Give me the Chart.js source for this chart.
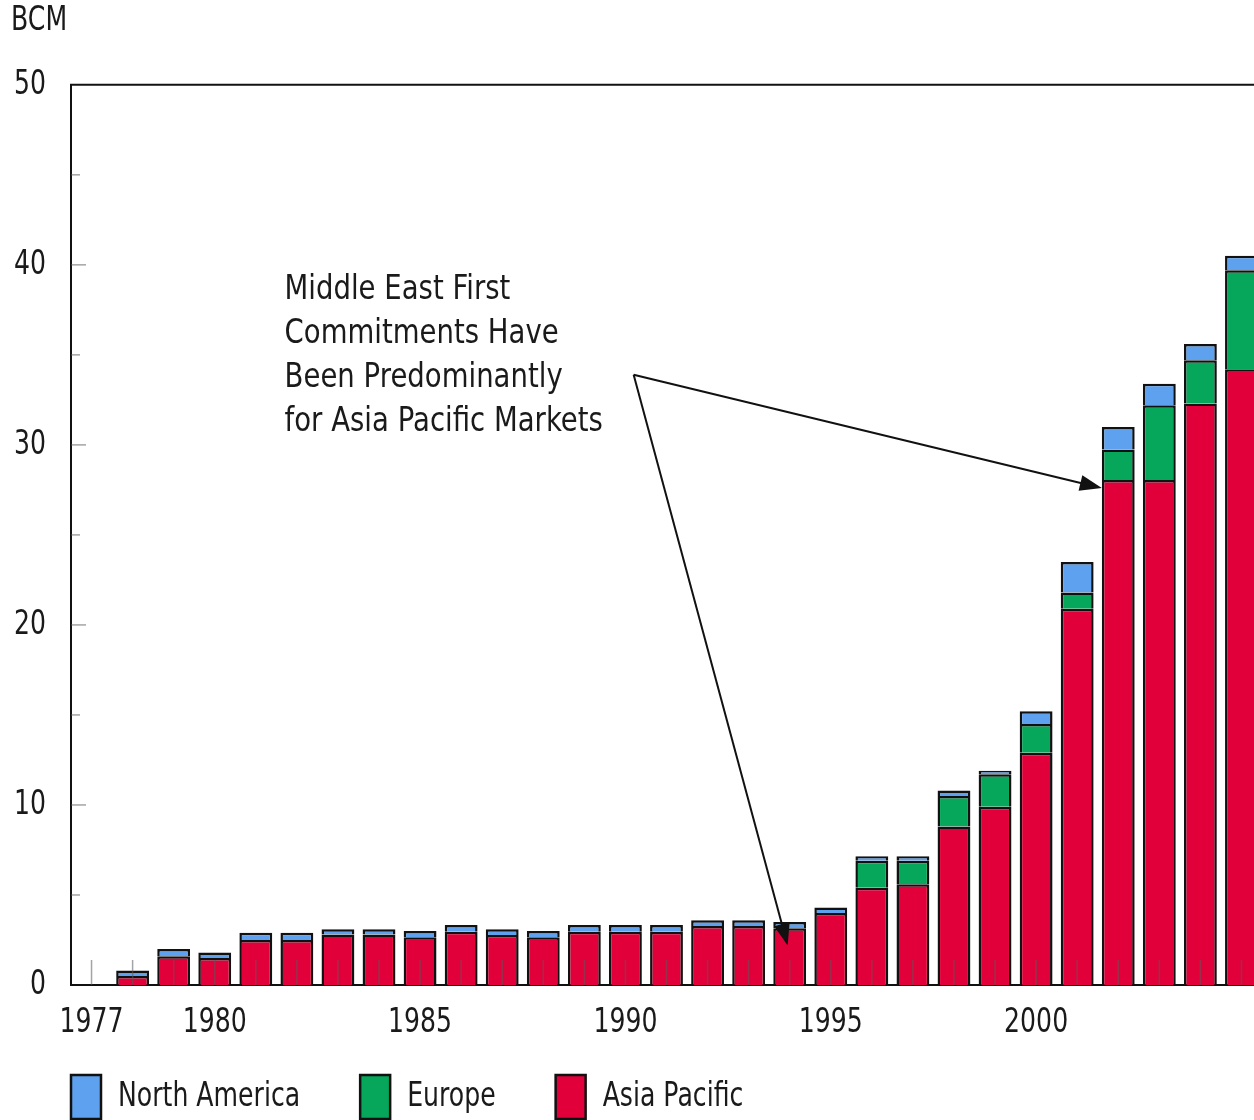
<!DOCTYPE html>
<html>
<head>
<meta charset="utf-8">
<script src="https://cdn.jsdelivr.net/npm/chart.js@4.4.1/dist/chart.umd.min.js"></script>
<style>
  html, body { margin: 0; padding: 0; background: #fff; overflow: hidden; }
  #wrap { width: 1262px; height: 1158px; }
</style>
</head>
<body>
<div id="wrap"><canvas id="chart" width="1262" height="1158"></canvas></div>
<script>
const years = ["1977", "1978", "1979", "1980", "1981", "1982", "1983", "1984", "1985", "1986",
  "1987", "1988", "1989", "1990", "1991", "1992", "1993", "1994", "1995", "1996",
  "1997", "1998", "1999", "2000", "2001", "2002", "2003", "2004", "2005"];
const labelYears = ["1977", "1980", "1985", "1990", "1995", "2000"];

// BCM
const asiaPacific = [0, 0.5, 1.6, 1.5, 2.5, 2.5, 2.8, 2.8, 2.65, 2.96,
  2.78, 2.65, 2.96, 2.96, 2.96, 3.28, 3.28, 3.15, 4.0, 5.4,
  5.6, 8.8, 9.9, 12.9, 20.9, 28.05, 28.05, 32.3, 34.2];
const europe = [0, 0, 0, 0, 0, 0, 0, 0, 0, 0,
  0, 0, 0, 0, 0, 0, 0, 0, 0, 1.5,
  1.3, 1.7, 1.8, 1.6, 0.9, 1.7, 4.15, 2.4, 5.5];
const northAmerica = [0, 0.3, 0.4, 0.3, 0.4, 0.4, 0.3, 0.3, 0.35, 0.37,
  0.32, 0.35, 0.37, 0.37, 0.37, 0.32, 0.32, 0.35, 0.3, 0.25,
  0.25, 0.3, 0.2, 0.7, 1.7, 1.25, 1.2, 0.9, 0.8];

const noteLines = ["Middle East First", "Commitments Have", "Been Predominantly", "for Asia Pacific Markets"];

const FONT = "'DejaVu Sans', sans-serif";
const TEXT = "#1a1a1a";
let squeeze = 0.74; // original type is a narrow face, squeeze text sideways

const canvas = document.getElementById("chart");
const c2d = canvas.getContext("2d");
const baseMeasure = c2d.measureText.bind(c2d);
const baseFill = c2d.fillText.bind(c2d);
c2d.measureText = function (t) {
  const m = baseMeasure(t);
  return {
    width: m.width * squeeze,
    actualBoundingBoxAscent: m.actualBoundingBoxAscent,
    actualBoundingBoxDescent: m.actualBoundingBoxDescent,
    actualBoundingBoxLeft: m.actualBoundingBoxLeft * squeeze,
    actualBoundingBoxRight: m.actualBoundingBoxRight * squeeze,
    fontBoundingBoxAscent: m.fontBoundingBoxAscent,
    fontBoundingBoxDescent: m.fontBoundingBoxDescent
  };
};
c2d.fillText = function (t, x, y, maxW) {
  const w = baseMeasure(String(t)).width * squeeze;
  baseFill(t, x, y, maxW !== undefined ? Math.min(maxW, w) : w);
};

// frame top line + little inside ticks
const framePlugin = {
  id: "frame",
  afterLayout(chart) {
    // legend sits closer under the axis than its padding allows
    const lg = chart.legend;
    const h = lg.bottom - lg.top;
    lg.top = chart.chartArea.bottom + 30;
    lg.bottom = lg.top + h;
  },
  afterDatasetsDraw(chart) {
    const { ctx, chartArea: a, scales } = chart;
    ctx.save();
    ctx.strokeStyle = "rgba(90,90,90,0.55)";
    ctx.lineWidth = 1.5;
    years.forEach((y, i) => {
      const px = scales.x.getPixelForValue(i);
      ctx.beginPath();
      ctx.moveTo(px, a.bottom);
      ctx.lineTo(px, a.bottom - 25);
      ctx.stroke();
    });
    for (let v = 5; v < 50; v += 5) {
      const py = scales.y.getPixelForValue(v);
      ctx.beginPath();
      ctx.moveTo(a.left, py);
      ctx.lineTo(a.left + (v % 10 === 0 ? 15 : 9), py);
      ctx.stroke();
    }
    ctx.strokeStyle = "#111";
    ctx.lineWidth = 2;
    ctx.beginPath();
    ctx.moveTo(a.left - 1, a.top);
    ctx.lineTo(a.right + 10, a.top);
    ctx.stroke();
    ctx.restore();
  }
};

function arrow(ctx, x0, y0, x1, y1) {
  const ang = Math.atan2(y1 - y0, x1 - x0);
  const len = 22, wid = 8;
  ctx.beginPath();
  ctx.moveTo(x0, y0);
  ctx.lineTo(x1 - Math.cos(ang) * len * 0.8, y1 - Math.sin(ang) * len * 0.8);
  ctx.stroke();
  ctx.beginPath();
  ctx.moveTo(x1, y1);
  ctx.lineTo(x1 - Math.cos(ang) * len - Math.sin(ang) * wid, y1 - Math.sin(ang) * len + Math.cos(ang) * wid);
  ctx.lineTo(x1 - Math.cos(ang) * len + Math.sin(ang) * wid, y1 - Math.sin(ang) * len - Math.cos(ang) * wid);
  ctx.closePath();
  ctx.fill();
}

const notePlugin = {
  id: "note",
  afterDraw(chart) {
    const { ctx, scales } = chart;
    const x = scales.x, y = scales.y;
    ctx.save();
    squeeze = 0.81;
    ctx.fillStyle = TEXT;
    ctx.font = "34px " + FONT;
    ctx.textAlign = "left";
    ctx.textBaseline = "middle";
    const tx = x.getPixelForValue(4.7);
    const ty = y.getPixelForValue(38.6);
    noteLines.forEach((t, i) => ctx.fillText(t, tx, ty + i * 44.2));
    squeeze = 0.74;
    ctx.strokeStyle = "#111";
    ctx.fillStyle = "#111";
    ctx.lineWidth = 2;
    const ox = x.getPixelForValue(13.2), oy = y.getPixelForValue(33.9);
    arrow(ctx, ox, oy, x.getPixelForValue(24.6), y.getPixelForValue(27.6));
    arrow(ctx, ox, oy, x.getPixelForValue(16.95), y.getPixelForValue(2.2));
    ctx.restore();
  }
};

const barStyle = { borderColor: "#111", borderWidth: 2.5, borderSkipped: "start", barPercentage: 0.8, categoryPercentage: 1 };

new Chart(canvas, {
  type: "bar",
  data: {
    labels: years,
    datasets: [
      Object.assign({ label: "Asia Pacific", data: asiaPacific, backgroundColor: "#E2003A" }, barStyle),
      Object.assign({ label: "Europe", data: europe, backgroundColor: "#06A75A" }, barStyle),
      Object.assign({ label: "North America", data: northAmerica, backgroundColor: "#5EA1EE" }, barStyle)
    ]
  },
  options: {
    responsive: false,
    devicePixelRatio: 1,
    animation: false,
    layout: { padding: { left: 11, top: 1, right: 0, bottom: 0 } },
    plugins: {
      title: {
        display: true, text: "BCM", align: "start", color: TEXT,
        font: { family: FONT, size: 34, weight: "normal" },
        padding: { top: 0, bottom: 43 }
      },
      legend: {
        position: "bottom", align: "start", reverse: true,
        labels: {
          color: TEXT, boxWidth: 30, boxHeight: 44, padding: 60,
          font: { family: FONT, size: 34 }
        }
      },
      tooltip: { enabled: false }
    },
    scales: {
      x: {
        stacked: true,
        grid: { display: false, drawTicks: false },
        border: { color: "#111", width: 2 },
        afterFit: s => { s.height = 59; },
        ticks: {
          autoSkip: false, maxRotation: 0, padding: 18, color: TEXT,
          font: { family: FONT, size: 34 },
          callback: (v, i) => labelYears.includes(years[i]) ? years[i] : ""
        }
      },
      y: {
        stacked: true, min: 0, max: 50,
        grid: { display: false, drawTicks: false },
        border: { color: "#111", width: 2 },
        afterFit: s => { s.width = 60; },
        ticks: {
          stepSize: 10, padding: 25, color: TEXT,
          font: { family: FONT, size: 34 }
        }
      }
    }
  },
  plugins: [framePlugin, notePlugin]
});
</script>
</body>
</html>
